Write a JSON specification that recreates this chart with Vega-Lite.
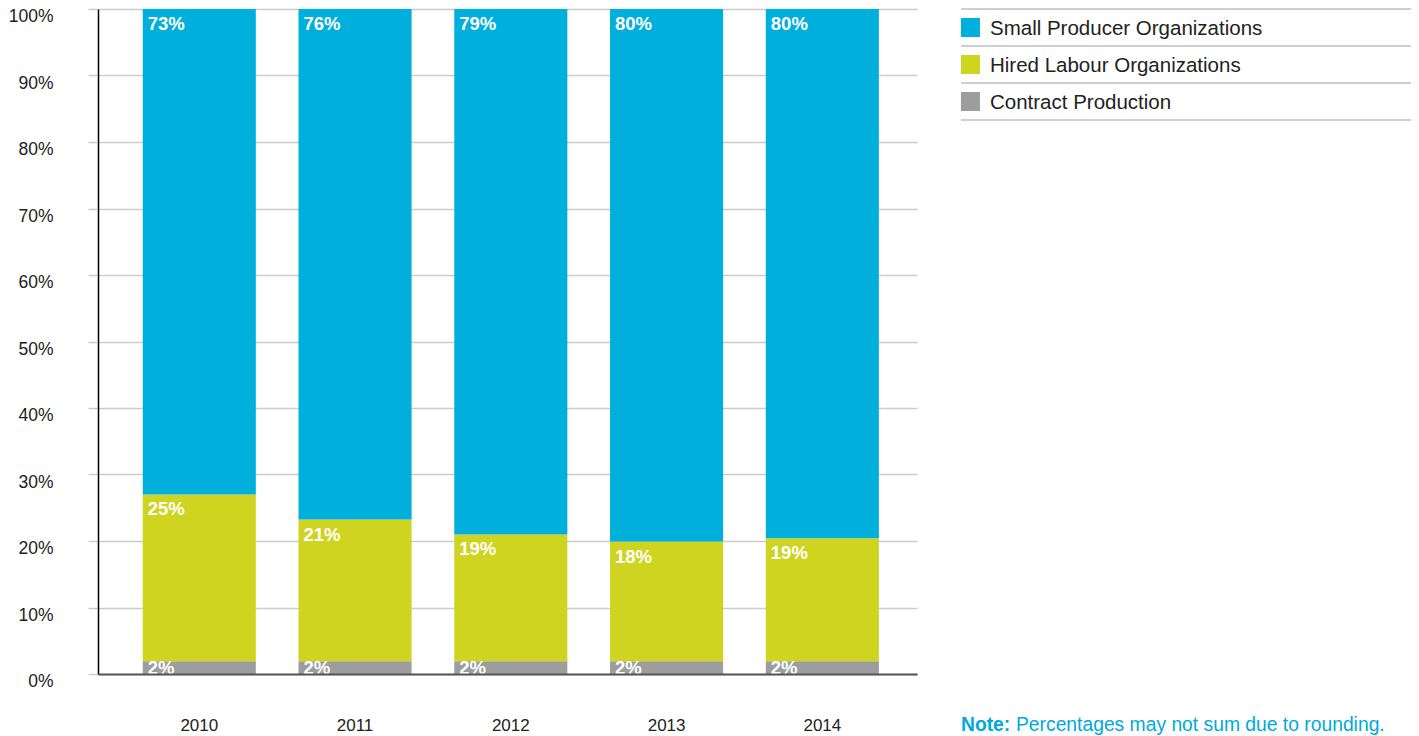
{
  "$schema": "https://vega.github.io/schema/vega-lite/v6.json",
  "padding": {"left": 8, "top": 7, "right": 5, "bottom": 2},
  "config": {"view": {"stroke": null}, "font": "Liberation Sans"},
  "datasets": {
    "shares": [
      {"year": "2010", "series": "Contract Production", "ord": 0, "value": 1.92, "label": "2%"},
      {"year": "2010", "series": "Hired Labour Organizations", "ord": 1, "value": 25.07, "label": "25%"},
      {"year": "2010", "series": "Small Producer Organizations", "ord": 2, "value": 73.0, "label": "73%"},
      {"year": "2011", "series": "Contract Production", "ord": 0, "value": 1.92, "label": "2%"},
      {"year": "2011", "series": "Hired Labour Organizations", "ord": 1, "value": 21.31, "label": "21%"},
      {"year": "2011", "series": "Small Producer Organizations", "ord": 2, "value": 76.77, "label": "76%"},
      {"year": "2012", "series": "Contract Production", "ord": 0, "value": 1.92, "label": "2%"},
      {"year": "2012", "series": "Hired Labour Organizations", "ord": 1, "value": 19.06, "label": "19%"},
      {"year": "2012", "series": "Small Producer Organizations", "ord": 2, "value": 79.02, "label": "79%"},
      {"year": "2013", "series": "Contract Production", "ord": 0, "value": 1.92, "label": "2%"},
      {"year": "2013", "series": "Hired Labour Organizations", "ord": 1, "value": 18.0, "label": "18%"},
      {"year": "2013", "series": "Small Producer Organizations", "ord": 2, "value": 80.08, "label": "80%"},
      {"year": "2014", "series": "Contract Production", "ord": 0, "value": 1.92, "label": "2%"},
      {"year": "2014", "series": "Hired Labour Organizations", "ord": 1, "value": 18.5, "label": "19%"},
      {"year": "2014", "series": "Small Producer Organizations", "ord": 2, "value": 79.58, "label": "80%"}
    ],
    "legendItems": [
      {"series": "Small Producer Organizations"},
      {"series": "Hired Labour Organizations"},
      {"series": "Contract Production"}
    ],
    "note": [
      {"head": "Note:", "body": "Percentages may not sum due to rounding."}
    ]
  },
  "spacing": 44,
  "bounds": "flush",
  "hconcat": [
    {
      "width": 819,
      "height": 665,
      "data": {"name": "shares"},
      "transform": [
        {"stack": "value", "groupby": ["year"], "sort": [{"field": "ord", "order": "ascending"}], "as": ["v0", "v1"], "offset": "normalize"}
      ],
      "encoding": {
        "x": {
          "field": "year", "type": "ordinal",
          "scale": {"type": "band", "paddingInner": 0.274, "paddingOuter": 0.266, "align": 0.54},
          "axis": {"title": null, "labelAngle": 0, "ticks": false, "domainColor": "#555555", "domainWidth": 2,
                   "labelFontSize": 17, "labelColor": "#222222", "labelPadding": 43, "zindex": 1}
        }
      },
      "layer": [
        {
          "mark": {"type": "bar"},
          "encoding": {
            "y": {
              "field": "v0", "type": "quantitative",
              "scale": {"domain": [0, 1]},
              "axis": {"title": null, "values": [0, 0.1, 0.2, 0.3, 0.4, 0.5, 0.6, 0.7, 0.8, 0.9, 1], "format": ".0%",
                       "grid": true, "gridColor": "#cccccc", "gridWidth": 1.5, "tickSize": 10, "tickColor": "#cccccc", "tickWidth": 1.5,
                       "domainColor": "#000000", "domainWidth": 1.5, "labelFontSize": 17.5, "labelColor": "#222222",
                       "labelPadding": 35, "labelOffset": 7.5}
            },
            "y2": {"field": "v1"},
            "color": {
              "field": "series", "type": "nominal",
              "scale": {"domain": ["Small Producer Organizations", "Hired Labour Organizations", "Contract Production"],
                        "range": ["#00AFDB", "#CFD421", "#9D9D9D"]},
              "legend": null
            }
          }
        },
        {
          "transform": [{"filter": "datum.ord > 0"}],
          "mark": {"type": "text", "align": "left", "baseline": "alphabetic", "dx": 5, "dy": 21, "fontWeight": "bold", "fontSize": 18.5, "color": "#ffffff"},
          "encoding": {
            "x": {"field": "year", "type": "ordinal", "bandPosition": 0},
            "y": {"field": "v1", "type": "quantitative"},
            "text": {"field": "label"}
          }
        },
        {
          "transform": [{"filter": "datum.ord == 0"}],
          "mark": {"type": "text", "align": "left", "baseline": "alphabetic", "dx": 5, "dy": 12.5, "fontWeight": "bold", "fontSize": 18.5, "color": "#ffffff"},
          "encoding": {
            "x": {"field": "year", "type": "ordinal", "bandPosition": 0},
            "y": {"field": "v1", "type": "quantitative"},
            "text": {"field": "label"}
          }
        }
      ]
    },
    {
      "spacing": 594.5,
      "bounds": "flush",
      "vconcat": [
        {
          "width": 450,
          "height": 111,
          "data": {"name": "legendItems"},
          "encoding": {
            "y": {"field": "series", "type": "nominal", "sort": null,
                  "scale": {"type": "band", "domain": ["Small Producer Organizations", "Hired Labour Organizations", "Contract Production"], "paddingInner": 0, "paddingOuter": 0},
                  "axis": null}
          },
          "layer": [
            {
              "mark": {"type": "rule", "color": "#cfcfcf", "strokeWidth": 2},
              "encoding": {"y": {"field": "series", "type": "nominal", "bandPosition": 0}}
            },
            {
              "mark": {"type": "rule", "color": "#cfcfcf", "strokeWidth": 2},
              "encoding": {"y": {"field": "series", "type": "nominal", "bandPosition": 1}}
            },
            {
              "mark": {"type": "square", "size": 361, "opacity": 1, "filled": true},
              "encoding": {
                "x": {"datum": 0.021, "type": "quantitative", "scale": {"domain": [0, 1]}, "axis": null},
                "color": {"field": "series", "type": "nominal",
                          "scale": {"domain": ["Small Producer Organizations", "Hired Labour Organizations", "Contract Production"],
                                    "range": ["#00AFDB", "#CFD421", "#9D9D9D"]},
                          "legend": null}
              }
            },
            {
              "mark": {"type": "text", "align": "left", "baseline": "middle", "fontSize": 20.5, "color": "#222222", "dy": 1.5},
              "encoding": {
                "x": {"datum": 0.0644, "type": "quantitative"},
                "text": {"field": "series"}
              }
            }
          ]
        },
        {
          "width": 450,
          "height": 20,
          "data": {"name": "note"},
          "layer": [
            {
              "mark": {"type": "text", "align": "left", "baseline": "middle", "fontSize": 19.3, "fontWeight": "bold", "color": "#00A9DC"},
              "encoding": {
                "x": {"datum": 0, "type": "quantitative", "scale": {"domain": [0, 1]}, "axis": null},
                "text": {"field": "head"}
              }
            },
            {
              "mark": {"type": "text", "align": "left", "baseline": "middle", "fontSize": 19.3, "color": "#00A9DC", "dx": 55},
              "encoding": {
                "x": {"datum": 0, "type": "quantitative"},
                "text": {"field": "body"}
              }
            }
          ]
        }
      ]
    }
  ]
}
